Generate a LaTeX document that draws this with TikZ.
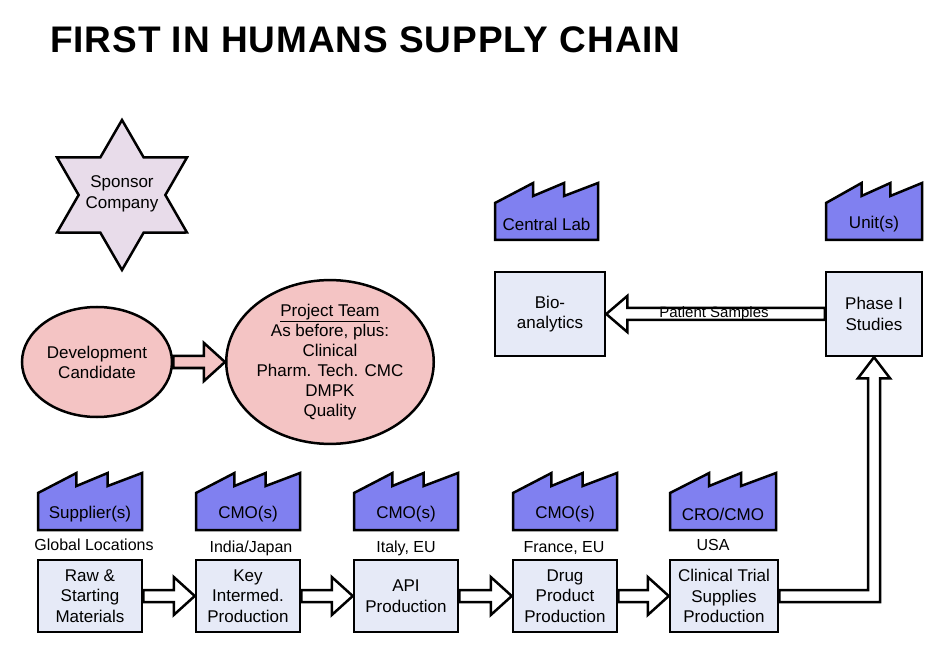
\documentclass[tikz,border=0pt]{standalone}
\usepackage{fontspec}
\setmainfont{Liberation Sans}
\usetikzlibrary{calc,shapes.geometric}
\definecolor{boxfill}{HTML}{E6EAF7}
\definecolor{factfill}{HTML}{8080F0}
\definecolor{starfill}{HTML}{E8DCEA}
\definecolor{pinkfill}{HTML}{F4C4C4}
\newcommand{\factory}[5]{%
  \draw[fact] (#2,#4-37) -- ({#2+.37*(#3-#2)},#4-57) -- ({#2+.37*(#3-#2)},#4-44) -- ({#2+.67*(#3-#2)},#4-57) -- ({#2+.67*(#3-#2)},#4-44) -- (#3,#4-57) -- (#3,#4) -- (#2,#4) -- cycle;
  \node[ftext] (#1) at ({(#2+#3)/2},#4-16) {#5};}
\newcommand{\harrow}[3][white]{%
  \draw[line width=2.5pt,fill=#1,line join=miter]
   ($(#2.east)+(0,-6)$) -- ($(#3.west)+(-21,-6)$) -- ($(#3.west)+(-21,-19)$) -- (#3.west) --
   ($(#3.west)+(-21,19)$) -- ($(#3.west)+(-21,6)$) -- ($(#2.east)+(0,6)$) -- cycle;}
\newcommand{\larrow}[2]{%
  \draw[line width=2.5pt,fill=white,line join=miter]
   ($(#1.west)+(0,-6)$) -- ($(#2.east)+(21,-6)$) -- ($(#2.east)+(21,-18)$) -- (#2.east) --
   ($(#2.east)+(21,18)$) -- ($(#2.east)+(21,6)$) -- ($(#1.west)+(0,6)$) -- cycle;}
\begin{document}
\begin{tikzpicture}[x=1pt,y=-1pt,
  box/.style={draw,line width=2.5pt,fill=boxfill,minimum width=104pt,minimum height=72pt,align=center,font=\fontsize{17}{20.5}\selectfont,inner sep=0pt},
  fact/.style={draw,line width=2.5pt,fill=factfill,line join=miter},
  ftext/.style={font=\fontsize{17}{20}\selectfont,inner sep=0pt},
  loc/.style={font=\fontsize{16}{19}\selectfont,inner sep=0pt},
  ell/.style={draw,line width=2.5pt,fill=pinkfill,ellipse,align=center,font=\fontsize{17}{20}\selectfont,inner sep=0pt}]
\useasboundingbox (0,0) rectangle (940,668);
\node[anchor=west,font=\fontsize{37}{41}\selectfont\bfseries,inner sep=0pt] (title) at (50,40) {\addfontfeature{LetterSpace=2.5}FIRST IN HUMANS SUPPLY CHAIN};
% star
\node[star,star points=6,star point ratio=1.73,minimum size=150pt,draw,line width=2.5pt,fill=starfill,inner sep=0pt] (star) at (122,195) {};
\node[align=center,font=\fontsize{17}{21}\selectfont] (startext) at (122,194) {Sponsor\\Company};
% ellipses
\node[ell,minimum width=150pt,minimum height=110pt] (dev) at (97,362) {Development\\Candidate};
\node[ell,minimum width=164pt,minimum height=150pt] (team) at (330,362) {\underline{Project Team}\\As before, plus:\\Clinical\\Pharm. Tech. CMC\\DMPK\\Quality};
\harrow[pinkfill]{dev}{team}
% top factories
\factory{cl}{495}{598}{240}{Central Lab}
\factory{un}{826}{922}{240}{Unit(s)}
\node[box,minimum width=110pt,minimum height=84pt] (bio) at (550,314) {Bio-\\analytics};
\node[box,minimum width=96pt,minimum height=84pt] (ph) at (874,314) {Phase I\\Studies};
\larrow{ph}{bio}
\node[font=\fontsize{15}{16}\selectfont,inner sep=0pt] (ps) at (714,314) {Patient Samples};
% bottom row
\factory{f1}{38}{142}{530}{Supplier(s)}
\factory{f2}{196}{300}{530}{CMO(s)}
\factory{f3}{354}{458}{530}{CMO(s)}
\factory{f4}{513}{617}{530}{CMO(s)}
\factory{f5}{670}{776}{530}{CRO/CMO}
\node[loc] (l1) at (94,545) {Global Locations};
\node[loc] (l2) at (251,548) {India/Japan};
\node[loc] (l3) at (406,548) {Italy, EU};
\node[loc] (l4) at (564,548) {France, EU};
\node[loc] (l5) at (713,545) {USA};
\node[box] (b1) at (90,596) {Raw \&\\Starting\\Materials};
\node[box] (b2) at (248,596) {Key\\Intermed.\\Production};
\node[box] (b3) at (406,596) {API\\Production};
\node[box] (b4) at (565,596) {Drug\\Product\\Production};
\node[box,minimum width=108pt] (b5) at (724,596) {Clinical Trial\\Supplies\\Production};
\harrow{b1}{b2}
\harrow{b2}{b3}
\harrow{b3}{b4}
\harrow{b4}{b5}
\draw[line width=2.5pt,fill=white,line join=miter]
  ($(b5.east)+(0,-6)$) -| ($(ph.south)+(-6,21)$) -- ($(ph.south)+(-16,21)$) -- (ph.south) --
  ($(ph.south)+(16,21)$) -- ($(ph.south)+(6,21)$) |- ($(b5.east)+(0,6)$) -- cycle;
\end{tikzpicture}
\end{document}
